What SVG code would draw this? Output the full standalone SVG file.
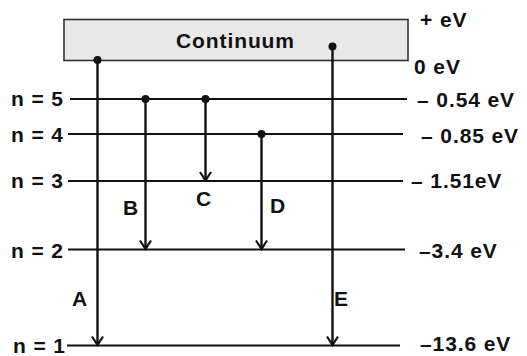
<svg xmlns="http://www.w3.org/2000/svg" width="527" height="356" viewBox="0 0 527 356">
<style>
text{font-family:"Liberation Sans",Arial,sans-serif;font-weight:bold;font-size:21px;letter-spacing:0.9px;fill:#111}
.lvl{stroke:#111;stroke-width:2;fill:none}
.tr{stroke:#111;stroke-width:2.4;fill:none}
</style>
<defs>
<marker id="arr" viewBox="0 0 12 14" refX="10.5" refY="7" markerWidth="12" markerHeight="14" markerUnits="userSpaceOnUse" orient="auto">
<path d="M2,1.5 L10.5,7 L2,12.5" fill="none" stroke="#111" stroke-width="2.2"/>
</marker>
</defs>
<g id="continuum">
<rect x="64" y="19.5" width="344" height="41" fill="#e8e8e8" stroke="#333" stroke-width="1.6"/>
<text x="176" y="48">Continuum</text>
<text x="420" y="27">+ eV</text>
<text x="414" y="73.5">0 eV</text>
</g>
<g id="n5">
<line class="lvl" x1="70" y1="99" x2="407" y2="99"/>
<text x="11" y="106">n = 5</text>
<text x="417" y="106.5">– 0.54 eV</text>
</g>
<g id="n4">
<line class="lvl" x1="68" y1="134" x2="403" y2="134"/>
<text x="11" y="142">n = 4</text>
<text x="421" y="143">– 0.85 eV</text>
</g>
<g id="n3">
<line class="lvl" x1="68" y1="181" x2="403" y2="181"/>
<text x="11" y="188">n = 3</text>
<text x="411" y="188">– 1.51eV</text>
</g>
<g id="n2">
<line class="lvl" x1="68" y1="249.5" x2="405" y2="249.5"/>
<text x="11" y="257.5">n = 2</text>
<text x="419" y="258">–3.4 eV</text>
</g>
<g id="n1">
<line class="lvl" x1="67" y1="345.5" x2="400" y2="345.5"/>
<text x="13" y="353">n = 1</text>
<text x="420" y="351">–13.6 eV</text>
</g>
<g id="connectors">
<line class="tr" x1="97.5" y1="60" x2="97.5" y2="345" marker-end="url(#arr)"/>
<circle cx="97.5" cy="60" r="4" fill="#111"/>
<line class="tr" x1="145.5" y1="99" x2="145.5" y2="249" marker-end="url(#arr)"/>
<circle cx="145.5" cy="99" r="4" fill="#111"/>
<line class="tr" x1="205.5" y1="99" x2="205.5" y2="180.5" marker-end="url(#arr)"/>
<circle cx="205.5" cy="99" r="4" fill="#111"/>
<line class="tr" x1="261.5" y1="134" x2="261.5" y2="249" marker-end="url(#arr)"/>
<circle cx="261.5" cy="134" r="4" fill="#111"/>
<line class="tr" x1="332.5" y1="46.5" x2="332.5" y2="345" marker-end="url(#arr)"/>
<circle cx="332.5" cy="46.5" r="4" fill="#111"/>
<text x="72" y="306">A</text>
<text x="123" y="215">B</text>
<text x="196" y="206">C</text>
<text x="270" y="213">D</text>
<text x="334" y="306">E</text>
</g>
</svg>
